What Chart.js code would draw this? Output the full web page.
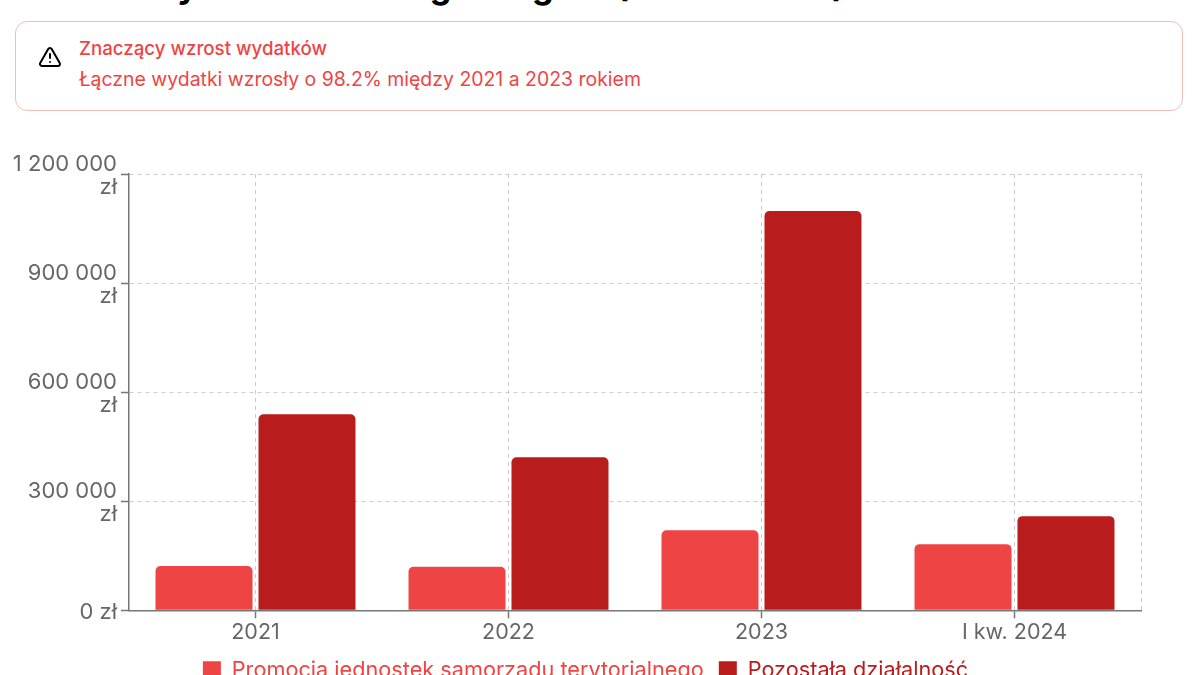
<!DOCTYPE html>
<html lang="pl">
<head>
<meta charset="utf-8">
<title>Analiza wydatków</title>
<script src="https://cdn.jsdelivr.net/npm/chart.js@4"></script>
<style>
  html, body { margin: 0; padding: 0; width: 1200px; height: 675px; overflow: hidden; background: #fff; font-family: Inter, sans-serif; }
  #tytul { position: absolute; left: 15px; top: -34px; margin: 0; font-size: 34.3px; line-height: 40px; font-weight: 700; color: #000; white-space: nowrap; }
  #alert { position: absolute; left: 15px; top: 21px; width: 1166px; height: 88px; border: 1.5px solid #f2bdb8; border-radius: 12px; background: #fff; }
  #alert svg { position: absolute; left: 22px; top: 23px; }
  #alert .naglowek { position: absolute; left: 63px; top: 15px; font-size: 18.7px; line-height: 24px; font-weight: 500; color: #ef4444; white-space: nowrap; }
  #alert .opis { position: absolute; left: 63px; top: 45px; font-size: 19.45px; line-height: 24px; color: #ef4444; white-space: nowrap; }
  #div_grafico { position: absolute; left: 0; top: 130px; width: 1200px; height: 561px; }
</style>
</head>
<body>
<h1 id="tytul">Analiza wydatków według kategorii (2021 – 2024)</h1>
<div id="alert">
  <svg width="24" height="24" viewBox="0 0 24 24" fill="none" stroke="#000" stroke-width="2" stroke-linecap="round" stroke-linejoin="round">
    <path d="M21.7 18l-8-14a2 2 0 0 0-3.5 0l-8 14A2 2 0 0 0 4 21h16a2 2 0 0 0 1.7-3"/>
    <path d="M12 9v4"/><path d="M12 17h.01"/>
  </svg>
  <div class="naglowek">Znaczący wzrost wydatków</div>
  <div class="opis">Łączne wydatki wzrosły o 98.2% między 2021 a 2023 rokiem</div>
</div>
<div id="div_grafico"><canvas id="grafico" width="1200" height="561"></canvas></div>
<script>
const kategorie = ["2021", "2022", "2023", "I kw. 2024"];
const promocja = [122000, 120000, 220000, 182000];
const pozostala = [539000, 421000, 1098000, 259000];
const etykietyY = [["0 zł"], ["300 000", "zł"], ["600 000", "zł"], ["900 000", "zł"], ["1 200 000", "zł"]];

const kolorOsi = "#777777";
const kolorTekstu = "#666666";
const kolorSiatki = "#cccccc";

// linia przerywana po prawej stronie wykresu + przesuniecie legendy
const prawaKrawedz = {
  id: "prawaKrawedz",
  afterLayout(chart) {
    chart.legend.left += 15;
    chart.legend.right += 15;
  },
  beforeDatasetsDraw(chart) {
    const { ctx, chartArea } = chart;
    ctx.save();
    ctx.strokeStyle = kolorSiatki;
    ctx.setLineDash([4, 4]);
    ctx.beginPath();
    ctx.moveTo(chartArea.right + 0.5, chartArea.top);
    ctx.lineTo(chartArea.right + 0.5, chartArea.bottom);
    ctx.stroke();
    ctx.restore();
  }
};

new Chart(document.getElementById("grafico"), {
  type: "bar",
  data: {
    labels: kategorie,
    datasets: [
      { label: "Promocja jednostek samorządu terytorialnego", data: promocja, backgroundColor: "#ef4444", borderRadius: { topLeft: 5, topRight: 5 } },
      { label: "Pozostała działalność", data: pozostala, backgroundColor: "#b91c1c", borderRadius: { topLeft: 5, topRight: 5 } }
    ]
  },
  options: {
    responsive: false,
    animation: false,
    categoryPercentage: 0.814,
    barPercentage: 0.942,
    layout: { padding: { top: 44, right: 59, left: 0, bottom: 0 } },
    plugins: {
      tooltip: { enabled: false },
      legend: {
        position: "bottom",
        labels: {
          boxWidth: 18,
          boxHeight: 18,
          padding: 15,
          font: { family: "Inter", size: 21.7 },
          generateLabels(chart) {
            return Chart.defaults.plugins.legend.labels.generateLabels(chart).map(function (item) {
              item.fontColor = item.fillStyle;
              return item;
            });
          }
        }
      }
    },
    scales: {
      x: {
        offset: true,
        afterFit(scale) { scale.height = 34; },
        grid: { offset: false, color: kolorSiatki, tickColor: kolorOsi, tickLength: 8, tickWidth: 1.5 },
        border: { color: kolorOsi, width: 1.5, dash: [4, 4] },
        ticks: { color: kolorTekstu, padding: 1, font: { family: "Inter", size: 21.5 }, maxRotation: 0 }
      },
      y: {
        min: 0,
        max: 1200000,
        afterFit(scale) { scale.width = 129; },
        grid: { color: kolorSiatki, tickColor: kolorOsi, tickLength: 8, tickWidth: 1.5 },
        border: { color: kolorOsi, width: 1.5, dash: [4, 4] },
        ticks: {
          stepSize: 300000,
          color: kolorTekstu,
          padding: 4,
          labelOffset: 2,
          font: { family: "Inter", size: 22, lineHeight: 1.05 },
          callback: function (value, i) { return etykietyY[i]; }
        }
      }
    }
  },
  plugins: [prawaKrawedz]
});
</script>
</body>
</html>
